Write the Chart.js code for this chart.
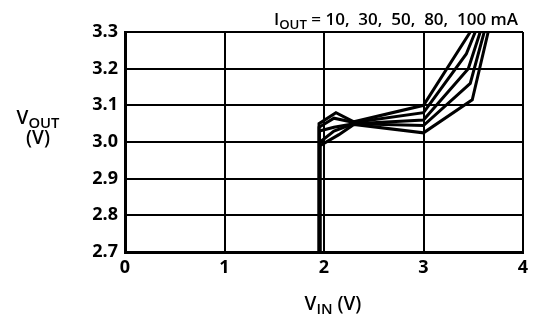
<!DOCTYPE html>
<html>
<head>
<meta charset="utf-8">
<script src="https://cdn.jsdelivr.net/npm/chart.js@4/dist/chart.umd.min.js"></script>
<style>
  html, body { margin: 0; padding: 0; background: #fff; }
  #wrap { width: 535px; height: 322px; }
</style>
</head>
<body>
<div id="wrap"><canvas id="c" width="535" height="322"></canvas></div>
<script>
// V_OUT vs V_IN for several load currents
const loadCurrents = ['10 mA', '30 mA', '50 mA', '80 mA', '100 mA'];

const vin10  = [1.95, 1.95, 2.12, 2.30, 3.00, 3.47];
const vout10 = [2.70, 3.05, 3.08, 3.055, 3.10, 3.30];

const vin30  = [1.95, 1.95, 2.10, 2.30, 3.00, 3.43, 3.52];
const vout30 = [2.70, 3.04, 3.065, 3.053, 3.08, 3.24, 3.30];

const vin50  = [1.955, 1.955, 2.10, 2.30, 3.00, 3.45, 3.57];
const vout50 = [2.70, 3.03, 3.04, 3.05, 3.06, 3.20, 3.30];

const vin80  = [1.96, 1.96, 2.10, 2.30, 3.00, 3.47, 3.61];
const vout80 = [2.70, 3.00, 3.03, 3.05, 3.045, 3.16, 3.30];

const vin100  = [1.96, 1.96, 2.15, 2.30, 3.00, 3.49, 3.65];
const vout100 = [2.70, 2.99, 3.02, 3.048, 3.025, 3.115, 3.30];

const xTicks = [0, 1, 2, 3, 4];
const yTicks = [2.7, 2.8, 2.9, 3.0, 3.1, 3.2, 3.3];

const seriesX = [vin10, vin30, vin50, vin80, vin100];
const seriesY = [vout10, vout30, vout50, vout80, vout100];

const FONT = '"Open Sans", "Liberation Sans", Arial, sans-serif';

function toPoints(xs, ys) {
  return xs.map((x, i) => ({ x: x, y: ys[i] }));
}

// Draws text made of [text, isSubscript] runs
function drawRuns(ctx, runs, x, y, size, align) {
  const sub = size * 0.78;
  let total = 0;
  runs.forEach(r => {
    ctx.font = '600 ' + (r[1] ? sub : size) + 'px ' + FONT;
    total += ctx.measureText(r[0]).width;
  });
  let cx = align === 'center' ? x - total / 2 : (align === 'right' ? x - total : x);
  ctx.textBaseline = 'alphabetic';
  ctx.textAlign = 'left';
  runs.forEach(r => {
    ctx.font = '600 ' + (r[1] ? sub : size) + 'px ' + FONT;
    ctx.fillText(r[0], cx, y + (r[1] ? size * 0.22 : 0));
    cx += ctx.measureText(r[0]).width;
  });
}

const labelsPlugin = {
  id: 'axisLabels',
  afterDraw(chart) {
    const ctx = chart.ctx;
    ctx.save();
    ctx.fillStyle = '#000';
    drawRuns(ctx, [['I', false], ['OUT', true], [' = 10,  30,  50,  80,  100 mA', false]], 396, 25, 17, 'center');
    drawRuns(ctx, [['V', false], ['OUT', true]], 38, 124, 19, 'center');
    drawRuns(ctx, [['(V)', false]], 38, 144, 19, 'center');
    drawRuns(ctx, [['V', false], ['IN', true], [' (V)', false]], 333, 310, 19, 'center');
    ctx.restore();
  }
};

new Chart(document.getElementById('c'), {
  type: 'line',
  data: {
    datasets: seriesX.map((xs, i) => ({
      label: loadCurrents[i],
      data: toPoints(xs, seriesY[i]),
      borderColor: '#000',
      borderWidth: 3,
      pointRadius: 0,
      tension: 0,
      fill: false
    }))
  },
  options: {
    responsive: false,
    animation: false,
    layout: { padding: { left: 0, right: 12, top: 32, bottom: 0 } },
    plugins: { legend: { display: false }, tooltip: { enabled: false } },
    scales: {
      x: {
        type: 'linear',
        min: 0, max: 4,
        afterBuildTicks: s => { s.ticks = xTicks.map(v => ({ value: v })); },
        afterFit: s => { s.height = 70; },
        ticks: { color: '#000', font: { family: FONT, size: 18, weight: 'bold' }, padding: 5,
                 callback: v => String(v) },
        grid: { color: '#000', lineWidth: 2, drawTicks: false },
        border: { color: '#000', width: 3 }
      },
      y: {
        type: 'linear',
        min: 2.7, max: 3.3,
        afterBuildTicks: s => { s.ticks = yTicks.map(v => ({ value: v })); },
        afterFit: s => { s.width = 125; },
        ticks: { color: '#000', font: { family: FONT, size: 18, weight: 'bold' }, padding: 7,
                 callback: v => v.toFixed(1) },
        grid: { color: '#000', lineWidth: 2, drawTicks: false },
        border: { color: '#000', width: 3 }
      }
    }
  },
  plugins: [labelsPlugin]
});
</script>
</body>
</html>
